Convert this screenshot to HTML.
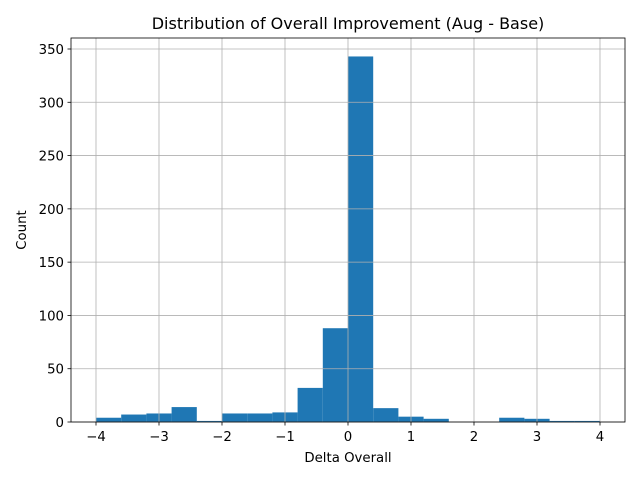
<!DOCTYPE html>
<html><head><meta charset="utf-8"><style>
body{margin:0;background:#fff;}
svg text{font-family:"DejaVu Sans","Liberation Sans",sans-serif;fill:#000;}
</style></head><body>
<svg id="chart" width="640" height="480" viewBox="0 0 640 480">
<rect width="640" height="480" fill="#fff"/>
<g id="grid"></g>
<g id="bars"></g>
<rect x="71" y="38" width="554" height="384" fill="none" stroke="#000" stroke-width="0.8"/>
<g id="axes"></g>
<text x="348" y="29" font-size="16" text-anchor="middle">Distribution of Overall Improvement (Aug - Base)</text>
<text x="348" y="462" font-size="13.3" text-anchor="middle">Delta Overall</text>
<text x="26" y="230" font-size="13.3" text-anchor="middle" transform="rotate(-90 26 230)">Count</text>
</svg>
<script>
const binEdges=[-4,-3.6,-3.2,-2.8,-2.4,-2,-1.6,-1.2,-0.8,-0.4,0,0.4,0.8,1.2,1.6,2,2.4,2.8,3.2,3.6,4];
const counts=[4,7,8,14,1,8,8,9,32,88,343,13,5,3,0,0,4,3,1,1];
const xTicks=[-4,-3,-2,-1,0,1,2,3,4];
const yTicks=[0,50,100,150,200,250,300,350];
const NS="http://www.w3.org/2000/svg";
const X=v=>348+v*63;
const Y=v=>422-v*(373/350);
const grid=document.getElementById('grid'),bars=document.getElementById('bars'),axes=document.getElementById('axes');
function mk(tag,attrs,parent){const e=document.createElementNS(NS,tag);for(const k in attrs)e.setAttribute(k,attrs[k]);parent.appendChild(e);return e;}
xTicks.forEach(t=>{
 const l=mk('line',{x1:X(t),x2:X(t),y1:38,y2:422,stroke:'#b0b0b0','stroke-width':0.8},grid);
 
 
 mk('line',{x1:X(t),x2:X(t),y1:422,y2:425.5,stroke:'#000','stroke-width':0.8},axes);
 const tx=mk('text',{x:X(t),y:441,'font-size':13.3,'text-anchor':'middle'},axes);
 tx.textContent=(t<0?'\u2212'+(-t):String(t));
 
 
});
yTicks.forEach(t=>{
 const l=mk('line',{x1:71,x2:625,y1:Y(t),y2:Y(t),stroke:'#b0b0b0','stroke-width':0.8},grid);
 
 
 mk('line',{x1:67.5,x2:71,y1:Y(t),y2:Y(t),stroke:'#000','stroke-width':0.8},axes);
 const tx=mk('text',{x:64,y:Y(t)+5,'font-size':13.3,'text-anchor':'end'},axes);
 tx.textContent=String(t);
 
 
});
counts.forEach((c,i)=>{
 if(c<=0)return;
 const r=mk('rect',{x:X(binEdges[i]),y:Y(c),width:X(binEdges[i+1])-X(binEdges[i]),height:Y(0)-Y(c),fill:'#1f77b4'},bars);
 
 
});
document.getElementById('chart').insertBefore(bars,grid);
</script>
</body></html>
